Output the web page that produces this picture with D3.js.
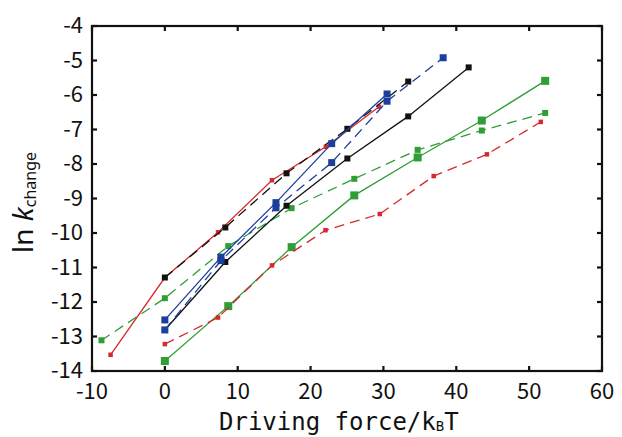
<!DOCTYPE html>
<html lang="en">
<head>
  <meta charset="UTF-8" />
  <title>ln k_change vs driving force</title>
  <script src="https://d3js.org/d3.v7.min.js"></script>
  <style>
    body { margin: 0; background: #fff; }
    .tick-label { font-family: "Noto Sans CJK JP", "Noto Sans", sans-serif; font-size: 22px; fill: #111; }
    .axis-title { font-family: "DejaVu Sans Mono", monospace; font-size: 24px; fill: #111; }
  </style>
</head>
<body>
  <div id="chart"></div>

  <script>
    // Data
    const redSolidX = [-7.45, 0, 7.3, 14.7, 22.1, 29.4];
    const redSolidY = [-13.53, -11.29, -9.98, -8.47, -7.5, -6.34];

    const redDashX = [0, 7.3, 14.7, 22.05, 29.5, 36.9, 44.2, 51.6];
    const redDashY = [-13.22, -12.45, -10.94, -9.92, -9.45, -8.35, -7.72, -6.78];

    const greenDashX = [-8.7, 0, 8.7, 17.4, 26.0, 34.7, 43.5, 52.2];
    const greenDashY = [-13.11, -11.89, -10.38, -9.28, -8.43, -7.59, -7.03, -6.52];

    const greenSolidX = [0, 8.7, 17.4, 26.0, 34.7, 43.5, 52.2];
    const greenSolidY = [-13.71, -12.12, -10.41, -8.91, -7.81, -6.74, -5.59];

    const blackDashX = [0, 8.3, 16.7, 25.05, 33.4];
    const blackDashY = [-11.29, -9.84, -8.27, -6.98, -5.61];

    const blackSolidX = [0, 8.3, 16.7, 25.05, 33.4, 41.7];
    const blackSolidY = [-12.81, -10.84, -9.21, -7.84, -6.62, -5.2];

    const blueSolidX = [0, 7.7, 15.25, 22.9, 30.5];
    const blueSolidY = [-12.52, -10.7, -9.12, -7.41, -5.97];

    const blueDashX = [0, 7.7, 15.25, 22.9, 30.5, 38.2];
    const blueDashY = [-12.81, -10.8, -9.27, -7.96, -6.18, -4.92];

    const xTicks = [-10, 0, 10, 20, 30, 40, 50, 60];
    const yTicks = [-4, -5, -6, -7, -8, -9, -10, -11, -12, -13, -14];

    const width = 622, height = 437;
    const margin = { top: 26, right: 20, bottom: 66, left: 92 };

    const svg = d3.select("#chart")
      .append("svg")
      .attr("width", width)
      .attr("height", height);

    const x = d3.scaleLinear().domain([-10, 60]).range([margin.left, width - margin.right]);
    const y = d3.scaleLinear().domain([-14, -4]).range([height - margin.bottom, margin.top]);

    // series: which arrays, colour, dash, marker size
    const series = [
      { xs: greenDashX, ys: greenDashY, color: "#2f9e36", dash: "10,6", size: 6 },
      { xs: greenSolidX, ys: greenSolidY, color: "#2f9e36", dash: null, size: 8 },
      { xs: redDashX, ys: redDashY, color: "#d42a2e", dash: "10,6", size: 4.5 },
      { xs: redSolidX, ys: redSolidY, color: "#d42a2e", dash: null, size: 4.5 },
      { xs: blackSolidX, ys: blackSolidY, color: "#111", dash: null, size: 6 },
      { xs: blackDashX, ys: blackDashY, color: "#111", dash: "10,6", size: 6 },
      { xs: blueDashX, ys: blueDashY, color: "#1c3f9e", dash: "10,6", size: 7 },
      { xs: blueSolidX, ys: blueSolidY, color: "#1c3f9e", dash: null, size: 7 }
    ];

    const line = d3.line().x(d => x(d[0])).y(d => y(d[1]));

    series.forEach(s => {
      const pts = s.xs.map((v, i) => [v, s.ys[i]]);
      svg.append("path")
        .attr("d", line(pts))
        .attr("fill", "none")
        .attr("stroke", s.color)
        .attr("stroke-width", 1.3)
        .attr("stroke-dasharray", s.dash);
      svg.selectAll(null)
        .data(pts)
        .enter()
        .append("rect")
        .attr("x", d => x(d[0]) - s.size / 2)
        .attr("y", d => y(d[1]) - s.size / 2)
        .attr("width", s.size)
        .attr("height", s.size)
        .attr("fill", s.color);
    });

    // Frame and inward ticks on all sides
    const x0 = x.range()[0], x1 = x.range()[1];
    const y0 = y.range()[0], y1 = y.range()[1];
    const tickLen = 5;

    const axisG = svg.append("g").attr("stroke", "#111").attr("stroke-width", 2.2);
    axisG.append("rect")
      .attr("x", x0).attr("y", y1)
      .attr("width", x1 - x0).attr("height", y0 - y1)
      .attr("fill", "none");

    xTicks.forEach(t => {
      axisG.append("line").attr("x1", x(t)).attr("x2", x(t)).attr("y1", y0).attr("y2", y0 - tickLen);
      axisG.append("line").attr("x1", x(t)).attr("x2", x(t)).attr("y1", y1).attr("y2", y1 + tickLen);
    });
    yTicks.forEach(t => {
      axisG.append("line").attr("x1", x0).attr("x2", x0 + tickLen).attr("y1", y(t)).attr("y2", y(t));
      axisG.append("line").attr("x1", x1).attr("x2", x1 - tickLen).attr("y1", y(t)).attr("y2", y(t));
    });

    // Tick labels
    svg.selectAll(".xl")
      .data(xTicks)
      .enter()
      .append("text")
      .attr("class", "tick-label")
      .attr("x", d => x(d))
      .attr("y", y0 + 28)
      .attr("text-anchor", "middle")
      .text(d => d);

    svg.selectAll(".yl")
      .data(yTicks)
      .enter()
      .append("text")
      .attr("class", "tick-label")
      .attr("x", x0 - 9)
      .attr("y", d => y(d))
      .attr("dy", "0.34em")
      .attr("text-anchor", "end")
      .text(d => d);

    // Axis titles
    const xTitle = svg.append("text")
      .attr("class", "axis-title")
      .attr("x", 219)
      .attr("y", 430);
    xTitle.append("tspan").text("Driving force/k");
    xTitle.append("tspan").style("font-size", "14px").attr("dy", 1).text("B");
    xTitle.append("tspan").attr("dy", -1).text("T");

    const yTitle = svg.append("text")
      .attr("transform", `translate(33, ${(y0 + y1) / 2 + 4}) rotate(-90)`)
      .attr("text-anchor", "middle")
      .style("font-family", "'Noto Sans', sans-serif")
      .style("font-size", "28px")
      .style("fill", "#111");
    yTitle.append("tspan").text("ln ");
    yTitle.append("tspan").style("font-style", "italic").text("k");
    yTitle.append("tspan").style("font-size", "16px").attr("dy", 3).text("change");
  </script>
</body>
</html>
